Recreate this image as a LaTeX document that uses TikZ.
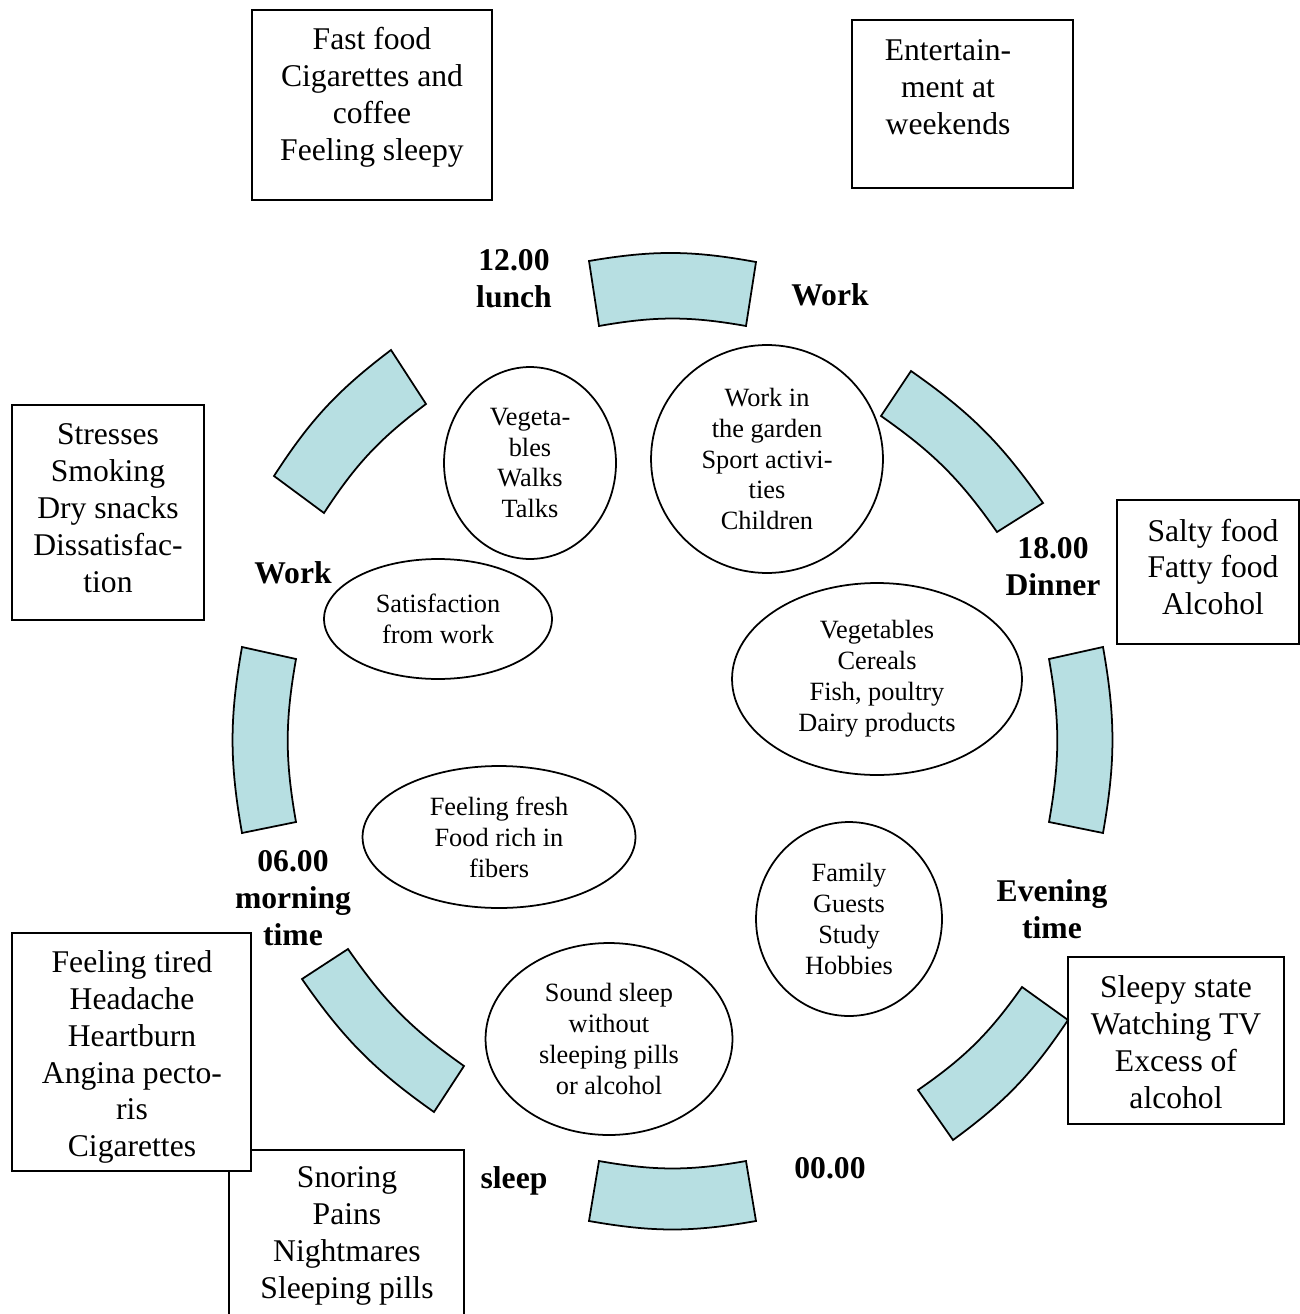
\documentclass[tikz,border=0pt]{standalone}
\usepackage{fontspec}
\setmainfont{Liberation Serif}
\usetikzlibrary{shapes.geometric}
\definecolor{segblue}{RGB}{183,223,226}

\begin{document}
\begin{tikzpicture}[x=0.02cm,y=-0.02cm,
    seg/.style={draw=black,line width=1pt,fill=segblue},
    boxline/.style={draw=black,line width=1pt},
    boxtext/.style={align=center,font=\fontsize{18}{21}\selectfont},
    timelabel/.style={align=center,font=\fontsize{18}{21}\selectfont\bfseries},
    oval/.style={draw,ellipse,line width=1pt,align=center,inner sep=0pt,font=\fontsize{15}{17.6}\selectfont}]

    \useasboundingbox (0,0) rectangle (1300,1314);

    %day ring
    \draw[seg] (589,261) to[bend left=10] (756,262) -- (746,326) to[bend right=10] (599,326) -- cycle;
    \draw[seg] (911,371) to[bend left=10] (1043,503) -- (997,532) to[bend right=10] (881,416) -- cycle;
    \draw[seg] (1103,647) to[bend left=10] (1103,833) -- (1049,822) to[bend right=10] (1049,659) -- cycle;
    \draw[seg] (1068,1020) to[bend left=10] (953,1140) -- (918,1090) to[bend right=10] (1022,987) -- cycle;
    \draw[seg] (756,1221) to[bend left=10] (589,1221) -- (599,1161) to[bend right=10] (746,1161) -- cycle;
    \draw[seg] (434,1112) to[bend left=10] (302,979) -- (348,949) to[bend right=10] (464,1066) -- cycle;
    \draw[seg] (242,833) to[bend left=10] (242,647) -- (296,659) to[bend right=10] (296,822) -- cycle;
    \draw[seg] (274,476) to[bend left=10] (391,350) -- (426,404) to[bend right=10] (324,513) -- cycle;

    %times of day
    \node[timelabel] (noon) at (514,279) {12.00\\lunch};
    \node[timelabel] (worktop) at (830,295) {Work};
    \node[timelabel] (dinner) at (1053,567) {18.00\\Dinner};
    \node[timelabel] (evening) at (1052,909) {Evening\\time};
    \node[timelabel] (midnight) at (830,1168) {00.00};
    \node[timelabel] (sleep) at (514,1181) {sleep};
    \node[timelabel] (morning) at (293,898) {06.00\\morning\\time};
    \node[timelabel] (workleft) at (293,573) {Work};

    %good habits
    \node[oval,minimum width=3.44cm,minimum height=3.84cm] (walks) at (530,463) {Vegeta-\\bles\\Walks\\Talks};
    \node[oval,minimum width=4.64cm,minimum height=4.56cm] (garden) at (767,459) {Work in\\the garden\\Sport activi-\\ties\\Children};
    \node[oval,minimum width=4.56cm,minimum height=2.4cm] (satisf) at (438,619) {Satisfaction\\from work};
    \node[oval,minimum width=5.8cm,minimum height=3.84cm] (veggies) at (877,679) {Vegetables\\Cereals\\Fish, poultry\\Dairy products};
    \node[oval,minimum width=5.46cm,minimum height=2.84cm] (fresh) at (499,837) {Feeling fresh\\Food rich in\\fibers};
    \node[oval,minimum width=3.72cm,minimum height=3.88cm] (family) at (849,919) {Family\\Guests\\Study\\Hobbies};
    \node[oval,minimum width=4.94cm,minimum height=3.84cm] (soundsleep) at (609,1039) {Sound sleep\\without\\sleeping pills\\or alcohol};

    %bad habits
    \draw[boxline] (252,10) rectangle (492,200);
    \node[boxtext] (fastfood) at (372,97) {Fast food\\Cigarettes and\\coffee\\Feeling sleepy};
    \draw[boxline] (852,20) rectangle (1073,188);
    \node[boxtext] (weekend) at (948,87) {Entertain-\\ment at\\weekends};
    \draw[boxline] (12,405) rectangle (204,620);
    \node[boxtext] (stress) at (108,508) {Stresses\\Smoking\\Dry snacks\\Dissatisfac-\\tion};
    \draw[boxline] (1117,500) rectangle (1299,644);
    \node[boxtext] (salty) at (1213,567) {Salty food\\Fatty food\\Alcohol};
    \draw[boxline] (1068,957) rectangle (1284,1124);
    \node[boxtext] (tvstate) at (1176,1042) {Sleepy state\\Watching TV\\Excess of\\alcohol};
    \draw[boxline] (229,1150) rectangle (464,1340);
    \node[boxtext] (snoring) at (347,1236) {Snoring\\Pains\\Nightmares\\Sleeping pills};
    \filldraw[boxline,fill=white] (12,933) rectangle (251,1171);
    \node[boxtext] (tired) at (132,1057) {Feeling tired\\Headache\\Heartburn\\Angina pecto-\\ris\\Cigarettes};
\end{tikzpicture}
\end{document}
